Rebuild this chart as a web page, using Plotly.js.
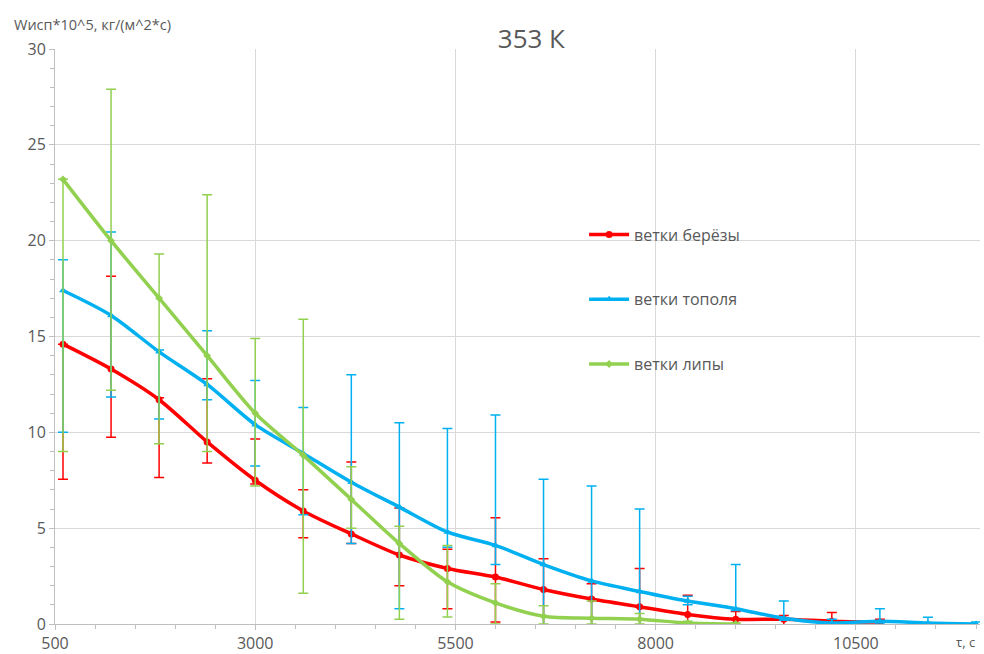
<!DOCTYPE html>
<html>
<head>
<meta charset="utf-8">
<script src="https://cdn.plot.ly/plotly-3.0.1.min.js"></script>
<style>html,body{margin:0;padding:0;background:#fff;}#chart{width:984px;height:654px;}</style>
</head>
<body>
<div id="chart"></div>
<script>
// time, s
const timeBirch  = [600,1200,1800,2400,3000,3600,4200,4800,5400,6000,6600,7200,7800,8400,9000,9600,10200,10800];
const timePoplar = [600,1200,1800,2400,3000,3600,4200,4800,5400,6000,6600,7200,7800,8400,9000,9600,10200,10800,11400,12000];
const timeLinden = [600,1200,1800,2400,3000,3600,4200,4800,5400,6000,6600,7200,7800,8400,9000];

// W*10^5, kg/(m^2*s)
const birch      = [14.6,13.3,11.7,9.5,7.5,5.9,4.7,3.6,2.9,2.45,1.8,1.3,0.9,0.5,0.25,0.25,0.15,0.1];
const birchPlus  = [0,4.85,0.1,3.3,2.15,1.1,3.75,2.45,1.0,3.1,1.6,0.8,2.0,1.0,0.4,0.2,0.45,0.15];
const birchMinus = [7.05,3.55,4.05,1.1,0.2,1.4,0.5,1.6,2.1,2.35,2.5,1.6,1.2,0.6,0.3,0.3,0.2,0.15];

const poplar      = [17.4,16.1,14.2,12.5,10.4,8.9,7.4,6.1,4.8,4.1,3.1,2.25,1.7,1.2,0.8,0.3,0.05,0.15,0.05,0.0];
const poplarPlus  = [1.6,4.35,0.1,2.8,2.3,2.4,5.6,4.4,5.4,6.8,4.45,4.95,4.3,0.25,2.3,0.9,0.2,0.65,0.3,0.1];
const poplarMinus = [7.4,4.25,3.5,0.8,2.15,3.2,3.2,5.3,0.8,1.0,3.5,2.5,1.9,0.2,0.1,0.1,0.05,0.1,0.05,0.05];

const linden      = [23.2,20.0,17.0,14.0,11.0,8.8,6.5,4.2,2.2,1.1,0.4,0.3,0.25,0.05,0.0];
const lindenPlus  = [0,7.9,2.3,8.4,3.9,7.1,1.7,0.9,1.9,1.0,0.55,0.9,0.3,0.1,0.05];
const lindenMinus = [14.2,7.8,7.6,5.0,3.8,7.2,1.5,3.95,1.83,1.1,0.4,0.3,0.25,0.05,0];

const names = ['ветки берёзы','ветки тополя','ветки липы'];
const xTicks = [500,3000,5500,8000,10500];
const yTicks = [0,5,10,15,20,25,30];

const FONT = 'Open Sans, Noto Sans, DejaVu Sans, sans-serif';
const GREY = '#595959';

function mk(x, y, plus, minus, name, color, symbol, msize, group) {
  return {
    type: 'scatter', mode: 'lines+markers', x: x, y: y, name: name,
    legendgroup: group,
    line: {color: color, width: 3.5, shape: 'spline', smoothing: 0.8},
    marker: {color: color, symbol: symbol, size: msize},
    error_y: {type: 'data', symmetric: false, array: plus, arrayminus: minus,
              color: color, thickness: 1.5, width: 5, visible: true}
  };
}

const data = [
  mk(timeBirch, birch, birchPlus, birchMinus, names[0], '#FF0000', 'circle', 7, 'a'),
  mk(timePoplar, poplar, poplarPlus, poplarMinus, names[1], '#00B0F0', 'triangle-up', 7, 'b'),
  mk(timeLinden, linden, lindenPlus, lindenMinus, names[2], '#92D050', 'diamond', 6, 'c')
];

const layout = {
  width: 984, height: 654,
  margin: {l: 55, r: 4, t: 49, b: 30, pad: 0},
  paper_bgcolor: '#ffffff', plot_bgcolor: '#ffffff',
  font: {family: FONT, color: GREY, size: 16},
  title: {text: '353 К', font: {family: FONT, size: 26, color: GREY},
          x: 0.515, xref: 'paper', xanchor: 'center', y: 0.94, yref: 'container', yanchor: 'middle'},
  showlegend: true,
  legend: {x: 0.572, y: 0.707, xanchor: 'left', yanchor: 'top', bgcolor: 'rgba(0,0,0,0)',
           font: {family: FONT, size: 16, color: GREY}, tracegroupgap: 41, itemwidth: 40},
  xaxis: {range: [500, 12050], tickmode: 'array', tickvals: xTicks, ticktext: xTicks.map(String),
          showgrid: true, gridcolor: '#D9D9D9', gridwidth: 1, zeroline: false,
          showline: true, linecolor: '#BFBFBF', linewidth: 1,
          ticks: 'outside', ticklen: 5, tickcolor: '#BFBFBF',
          minor: {dtick: 500, tick0: 500, ticks: 'outside', ticklen: 4, tickcolor: '#BFBFBF', showgrid: false},
          tickfont: {family: FONT, size: 16, color: GREY}},
  yaxis: {range: [0, 30], tickmode: 'array', tickvals: yTicks, ticktext: yTicks.map(String),
          showgrid: true, gridcolor: '#D9D9D9', gridwidth: 1, zeroline: false,
          showline: true, linecolor: '#BFBFBF', linewidth: 1,
          ticks: 'outside', ticklen: 5, tickcolor: '#BFBFBF',
          minor: {dtick: 1, tick0: 0, ticks: 'outside', ticklen: 4, tickcolor: '#BFBFBF', showgrid: false},
          tickfont: {family: FONT, size: 16, color: GREY}},
  annotations: [
    {text: 'Wисп*10^5, кг/(м^2*с)', xref: 'paper', yref: 'paper', x: -0.047, y: 1.0,
     xanchor: 'left', yanchor: 'bottom', yshift: 13, showarrow: false,
     font: {family: FONT, size: 14.5, color: GREY}},
    {text: 'τ, с', xref: 'paper', yref: 'paper', x: 0.997, y: 0, xanchor: 'right', yanchor: 'bottom',
     yshift: -29, showarrow: false, font: {family: FONT, size: 13, color: GREY}}
  ]
};

Plotly.newPlot('chart', data, layout, {displayModeBar: false, staticPlot: true});
</script>
</body>
</html>
